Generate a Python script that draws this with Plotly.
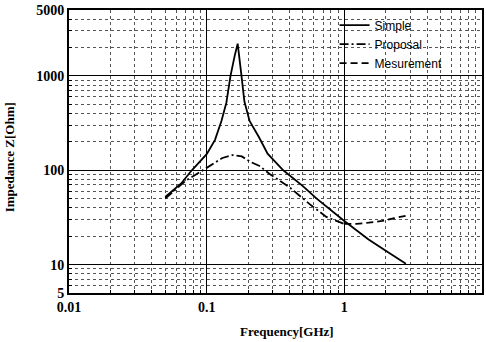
import plotly.graph_objects as go

# ---- data ----
simple_f = [0.05, 0.065, 0.078, 0.1, 0.115, 0.128, 0.139, 0.149, 0.16, 0.168,
            0.178, 0.188, 0.205, 0.24, 0.277, 0.36, 0.5, 0.63, 1.0, 1.5, 2.0, 2.8]
simple_z = [52, 72, 100, 148, 210, 333, 520, 1000, 1650, 2200,
            1080, 536, 333, 224, 150, 100, 68, 50, 29, 18.5, 14, 10.2]

proposal_f = [0.05, 0.07, 0.1, 0.13, 0.154, 0.18, 0.21, 0.242, 0.285, 0.4, 0.557, 0.74, 1.0]
proposal_z = [50, 77, 106, 135, 145, 140, 122, 111, 92, 66, 44, 32, 27]

measure_f = [1.0, 1.22, 1.5, 1.88, 2.3, 2.8]
measure_z = [27, 27, 27.8, 29, 31, 33]

x_tickvals = [0.01, 0.1, 1, 10]
x_ticktext = ["0.01", "0.1", "1", "10"]
y_tickvals = [5, 10, 100, 1000, 5000]
y_ticktext = ["5", "10", "100", "1000", "5000"]

x_minor = [m * d for d in (0.01, 0.1, 1) for m in range(2, 10)]
y_minor = [m * d for d in (1, 10, 100, 1000) for m in range(2, 10) if 5 <= m * d <= 5000]

serif_bold = dict(family="Liberation Serif", size=13, color="black")

fig = go.Figure()
fig.add_trace(go.Scatter(x=simple_f, y=simple_z, mode="lines", name="Simple",
                         line=dict(color="black", width=1.8)))
fig.add_trace(go.Scatter(x=proposal_f, y=proposal_z, mode="lines", name="Proposal",
                         line=dict(color="black", width=1.8, dash="9px,3px,2px,3px")))
fig.add_trace(go.Scatter(x=measure_f, y=measure_z, mode="lines", name="Mesurement",
                         line=dict(color="black", width=1.8, dash="7px,4px")))

axis_common = dict(
    type="log", showline=True, mirror=True, linecolor="black", linewidth=2,
    showgrid=True, gridcolor="black", gridwidth=1,
    ticks="inside", ticklen=5, tickcolor="black",
    tickfont=dict(family="Liberation Serif", size=14, color="black"),
    zeroline=False,
)

fig.update_xaxes(range=[-2, 1], tickmode="array", tickvals=x_tickvals,
                 ticktext=[f"<b>{t}</b>" for t in x_ticktext],
                 minor=dict(tickmode="array", tickvals=x_minor, showgrid=True,
                            gridcolor="#555", griddash="dot", gridwidth=1,
                            ticks="inside", ticklen=3, tickcolor="black"),
                 **axis_common)
fig.update_yaxes(range=[0.69897, 3.69897], tickmode="array", tickvals=y_tickvals,
                 ticktext=[f"<b>{t}</b>" for t in y_ticktext],
                 minor=dict(tickmode="array", tickvals=y_minor, showgrid=True,
                            gridcolor="#555", griddash="dot", gridwidth=1,
                            ticks="inside", ticklen=3, tickcolor="black"),
                 **axis_common)

fig.update_layout(
    width=486, height=342,
    margin=dict(l=69, r=2, t=10, b=49),
    paper_bgcolor="white", plot_bgcolor="white",
    showlegend=True,
    legend=dict(x=0.643, y=0.998, xanchor="left", yanchor="top",
                bgcolor="rgba(0,0,0,0)", borderwidth=0,
                font=dict(family="Liberation Sans", size=12, color="black"),
                tracegroupgap=0, itemwidth=30),
    annotations=[
        dict(text="<b>Frequency[GHz]</b>", xref="paper", yref="paper",
             x=0.528, y=-0.137, xanchor="center", yanchor="middle",
             showarrow=False, font=serif_bold),
        dict(text="<b>Impedance Z[Ohm]</b>", xref="paper", yref="paper",
             x=-0.145, y=0.48, xanchor="center", yanchor="middle", textangle=-90,
             showarrow=False, font=serif_bold),
    ],
)

fig.write_html("out.html")
